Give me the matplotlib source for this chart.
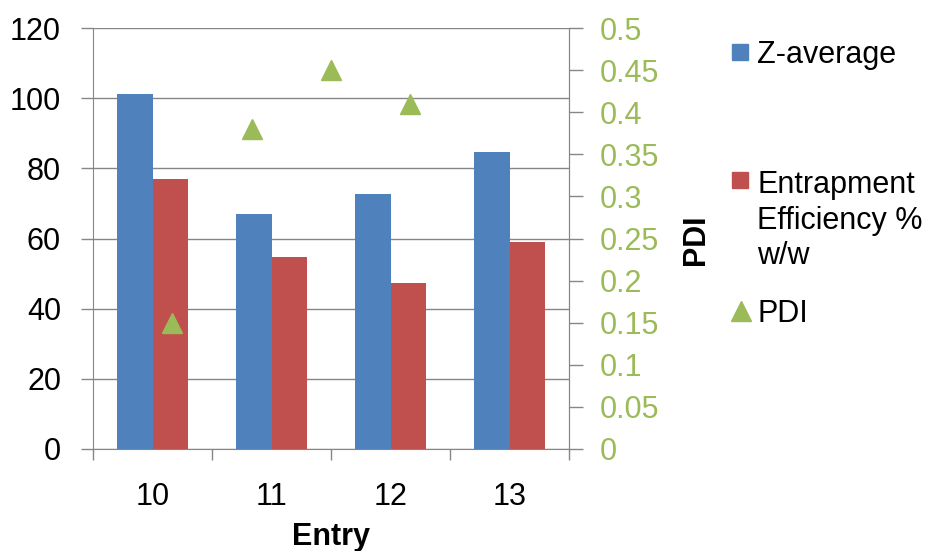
import matplotlib
matplotlib.use('Agg')
import matplotlib.pyplot as plt
from matplotlib.lines import Line2D

plt.rcParams['font.family'] = ['Liberation Sans', 'DejaVu Sans']

# data
entries = ['10', '11', '12', '13']
zAverage = [101.2, 66.9, 72.6, 84.7]
entrapment = [77.0, 54.8, 47.4, 58.9]
pdi = [0.15, 0.38, 0.45, 0.41]
# PDI points sit on their own category axis (1..4 of 0..6), like in the excel original
pdiX = [1, 2, 3, 4]

blue = '#4F81BD'
red = '#C0504D'
green = '#9BBB59'
grey = '#868686'

fig = plt.figure(figsize=(9.4, 5.51), dpi=100)
ax = fig.add_axes([93 / 940, 1 - 449 / 551, 476 / 940, 421 / 551])

x = range(len(entries))
w = 0.295
ax.bar([i - w / 2 for i in x], zAverage, width=w, color=blue, zorder=3)
ax.bar([i + w / 2 for i in x], entrapment, width=w, color=red, zorder=3)

ax.set_xlim(-0.5, 3.5)
ax.set_ylim(0, 120)
ax.set_yticks(range(0, 121, 20))
ax.yaxis.grid(True, color=grey, linewidth=1.0, zorder=0)
ax.set_axisbelow(True)

ax.set_xticks([-0.5, 0.5, 1.5, 2.5, 3.5])
ax.set_xticklabels([])
ax.set_xticks(list(x), minor=True)
ax.set_xticklabels(entries, minor=True)
ax.tick_params(axis='x', which='major', length=8, width=1, color=grey, direction='out')
ax.tick_params(axis='x', which='minor', length=0, pad=24, labelsize=22)
ax.tick_params(axis='y', length=9, width=1, color=grey, direction='out', pad=14, labelsize=22)

for s in ['left', 'bottom', 'right']:
    ax.spines[s].set_color(grey)
ax.spines['top'].set_visible(False)

ax2 = ax.twinx()
ax2.set_ylim(0, 0.5)
ax2.set_yticks([0, 0.05, 0.1, 0.15, 0.2, 0.25, 0.3, 0.35, 0.4, 0.45, 0.5])
ax2.set_yticklabels(['0', '0.05', '0.1', '0.15', '0.2', '0.25', '0.3', '0.35', '0.4', '0.45', '0.5'])
ax2.tick_params(axis='y', length=10, width=1, color=grey, direction='out', pad=12,
                labelsize=22, labelcolor=green)
for s in ax2.spines.values():
    s.set_visible(False)
ax2.spines['right'].set_visible(True)
ax2.spines['right'].set_color(grey)

ax3 = ax2.twiny()
ax3.set_xlim(0, 6)
ax3.plot(pdiX, pdi, linestyle='none', marker='^', markersize=14, color=green, zorder=4)
ax3.set_xticks([])
for s in ax3.spines.values():
    s.set_visible(False)

fig.text(331 / 940, 1 - 545 / 551, 'Entry', ha='center', va='baseline',
         fontsize=22, fontweight='bold')
fig.text(696 / 940, 1 - 240 / 551, 'PDI', ha='center', va='center', rotation=90,
         fontsize=22, fontweight='bold')

# legend drawn by hand so the entries keep the excel spacing
fig.add_artist(Line2D([740 / 940], [1 - 52 / 551], marker='s', markersize=12,
                      color=blue, transform=fig.transFigure))
fig.add_artist(Line2D([740 / 940], [1 - 180 / 551], marker='s', markersize=12,
                      color=red, transform=fig.transFigure))
fig.add_artist(Line2D([741 / 940], [1 - 311 / 551], marker='^', markersize=14,
                      color=green, transform=fig.transFigure))
fig.text(757 / 940, 1 - 62.5 / 551, 'Z-average', fontsize=22, va='baseline')
# multi-line baseline is the last line's, so anchor at the "w/w" line
fig.text(757 / 940, 1 - 264.5 / 551, 'Entrapment\nEfficiency %\nw/w', fontsize=22,
         va='baseline', linespacing=1.25)
fig.text(757 / 940, 1 - 322.5 / 551, 'PDI', fontsize=22, va='baseline')

fig.savefig('out.png', dpi=100)
